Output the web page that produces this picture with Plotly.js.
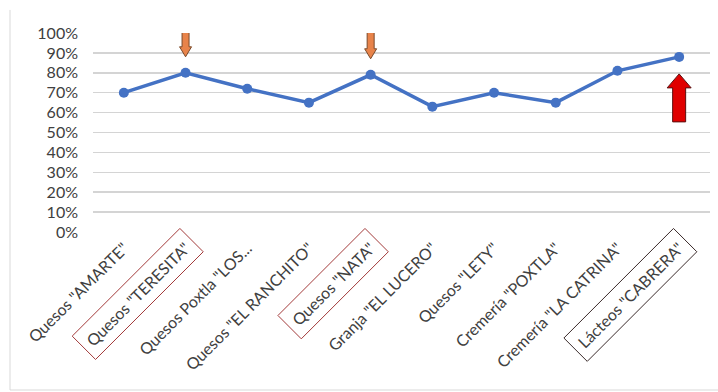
<!DOCTYPE html>
<html>
<head>
<meta charset="utf-8">
<script src="https://cdn.plot.ly/plotly-3.0.1.min.js"></script>
<style>html,body{margin:0;padding:0;background:#fff;}#chart{width:718px;height:392px;}</style>
</head>
<body>
<div id="chart"></div>
<script>
var categories = ['Quesos "AMARTE"', 'Quesos "TERESITA"', 'Quesos Poxtla "LOS...', 'Quesos "EL RANCHITO"', 'Quesos "NATA"', 'Granja "EL LUCERO"', 'Quesos "LETY"', 'Cremería "POXTLA"', 'Cremería "LA CATRINA"', 'Lácteos "CABRERA"'];
var values = [0.70, 0.80, 0.72, 0.65, 0.79, 0.63, 0.70, 0.65, 0.81, 0.88];
var yTickValues = [0, 0.1, 0.2, 0.3, 0.4, 0.5, 0.6, 0.7, 0.8, 0.9, 1.0];
var boxedLabels = [1, 4, 9];
var boxColors = ['#a33a3a', '#a33a3a', '#3a2a2a'];
var downArrowAt = [1, 4];
var upArrowAt = [9];

var xIdx = categories.map(function (c, i) { return i; });
var xRange = [-0.5, categories.length - 0.5];

var shapes = [];
// outer chart border (left and bottom)
shapes.push({type: 'line', xref: 'paper', yref: 'paper', x0: -0.1345, x1: -0.1345, y0: -0.794, y1: 1.116, line: {color: '#d9d9d9', width: 1}});
shapes.push({type: 'line', xref: 'paper', yref: 'paper', x0: -0.1345, x1: 1.02, y0: -0.794, y1: -0.794, line: {color: '#d9d9d9', width: 1}});

// orange down arrows above points
downArrowAt.forEach(function (idx) {
  var path = 'M-3.5,46 L3.5,46 L3.5,26 L6,26 L0,16 L-6,26 L-3.5,26 Z';
  shapes.push({type: 'path', xref: 'x', yref: 'y', xsizemode: 'pixel', ysizemode: 'pixel',
    xanchor: idx, yanchor: values[idx], path: path, line: {color: '#7a4a2a', width: 1}, fillcolor: '#e8834a'});
});
// red up arrow below point
upArrowAt.forEach(function (idx) {
  var path = 'M-6.5,-65 L6.5,-65 L6.5,-31 L12,-31 L0,-17 L-12,-31 L-6.5,-31 Z';
  shapes.push({type: 'path', xref: 'x', yref: 'y', xsizemode: 'pixel', ysizemode: 'pixel',
    xanchor: idx, yanchor: values[idx], path: path, line: {color: '#5a1010', width: 1}, fillcolor: '#e00000'});
});

var trace = {
  x: xIdx,
  y: values,
  type: 'scatter',
  mode: 'lines+markers',
  line: {color: '#4472c4', width: 3.5},
  marker: {color: '#4472c4', size: 10},
  hoverinfo: 'skip'
};

var layout = {
  width: 718, height: 392,
  margin: {l: 93, r: 8, t: 33, b: 160},
  paper_bgcolor: '#ffffff',
  plot_bgcolor: '#ffffff',
  showlegend: false,
  font: {family: 'Lato, "Open Sans", sans-serif', color: '#404040'},
  xaxis: {
    range: xRange,
    tickmode: 'array',
    tickvals: xIdx,
    ticktext: categories,
    tickangle: -45,
    showgrid: false,
    zeroline: false,
    showline: false,
    ticks: '',
    ticklabelstandoff: 3,
    tickfont: {size: 16, color: '#404040', family: 'Lato, "Open Sans", sans-serif'},
    fixedrange: true
  },
  yaxis: {
    range: [0, 1],
    tickmode: 'array',
    tickvals: yTickValues,
    ticktext: yTickValues.map(function (v) { return Math.round(v * 100) + '%'; }),
    showgrid: true,
    gridcolor: '#d4d4d4',
    gridwidth: 1.5,
    zeroline: false,
    showline: false,
    ticks: '',
    ticklabelstandoff: 14,
    tickfont: {size: 16, color: '#404040', family: 'Lato, "Open Sans", sans-serif'},
    fixedrange: true
  },
  shapes: shapes
};

Plotly.newPlot('chart', [trace], layout, {displayModeBar: false, staticPlot: true}).then(function (gd) {
  // draw rotated boxes around the highlighted category labels
  var sz = gd._fullLayout._size;
  var gdRect = gd.getBoundingClientRect();
  var texts = gd.querySelectorAll('.xtick text');
  var boxes = [];
  var padLen = 7, halfW = 16.5;
  var u = [Math.SQRT1_2, -Math.SQRT1_2], v = [Math.SQRT1_2, Math.SQRT1_2];
  boxedLabels.forEach(function (idx, k) {
    var t = texts[idx];
    if (!t) return;
    var bb = t.getBBox();
    var r = t.getBoundingClientRect();
    var cx = r.left + r.width / 2 - gdRect.left;
    var cy = r.top + r.height / 2 - gdRect.top;
    var hl = bb.width / 2 + padLen;
    var corners = [[hl, -halfW], [hl, halfW], [-hl, halfW], [-hl, -halfW]].map(function (s) {
      var X = cx + u[0] * s[0] + v[0] * s[1];
      var Y = cy + u[1] * s[0] + v[1] * s[1];
      return [(X - sz.l) / sz.w, 1 - (Y - sz.t) / sz.h];
    });
    var path = 'M' + corners.map(function (q) { return q[0].toFixed(5) + ',' + q[1].toFixed(5); }).join(' L') + ' Z';
    boxes.push({type: 'path', xref: 'paper', yref: 'paper', path: path, line: {color: boxColors[k], width: 1}, fillcolor: 'rgba(0,0,0,0)'});
  });
  return Plotly.relayout(gd, {shapes: shapes.concat(boxes)});
});
</script>
</body>
</html>
